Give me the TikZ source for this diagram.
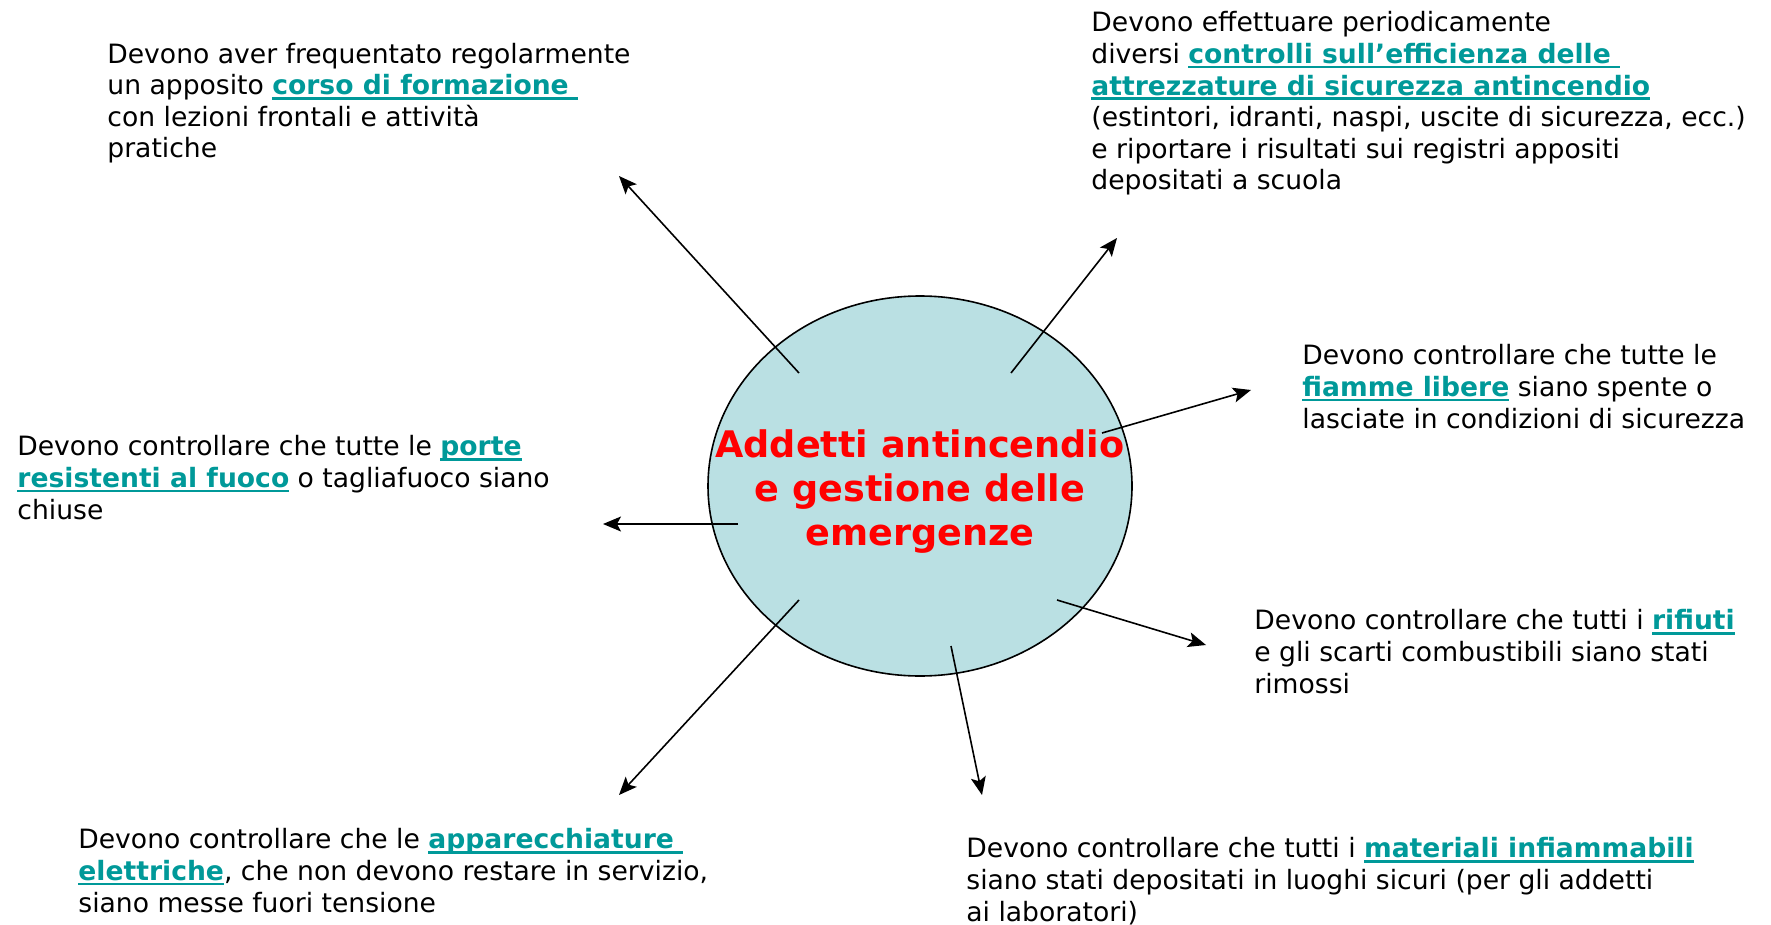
\documentclass[tikz,border=0pt]{standalone}
\usepackage{fontspec}
\setmainfont{DejaVu Sans}
\usepackage{xcolor}
\usetikzlibrary{shapes.geometric,arrows.meta}
\definecolor{linkteal}{RGB}{0,153,153}
\definecolor{hubblue}{RGB}{186,224,227}
\definecolor{hubred}{RGB}{255,0,0}
\newcommand{\lnk}[1]{{\bfseries\color{linkteal}\setbox0=\hbox{#1}\rlap{\rule[-2.4pt]{\wd0}{1.3pt}}\box0}}

\begin{document}
\begin{tikzpicture}[x=0.5pt,y=-0.5pt,
    note/.style={anchor=base west,inner sep=0pt,align=left,font=\fontsize{13.3}{15.8}\selectfont},
    pointer/.style={line width=0.8pt,-{Stealth[length=9pt,width=7.5pt,inset=2pt]}}]
    \useasboundingbox (0,0) rectangle (1771,925);
    \node[draw,ellipse,line width=0.8pt,fill=hubblue,minimum width=212pt,minimum height=190pt,inner sep=0pt] (hub) at (920,486) {};
    \node[anchor=base,inner sep=0pt,align=center,text=hubred,font=\fontsize{18.3}{22}\selectfont\bfseries] (title) at (920,545)
        {Addetti antincendio\\e gestione delle\\emergenze};
    \node[note] (corso) at (107,158) {Devono aver frequentato regolarmente\\un apposito \lnk{corso di formazione\ }\\con lezioni frontali e attività\\pratiche};
    \node[note] (controlli) at (1091,190) {Devono effettuare periodicamente\\diversi \lnk{controlli sull’efficienza delle\ }\\\lnk{attrezzature di sicurezza antincendio}\\(estintori, idranti, naspi, uscite di sicurezza, ecc.)\\e riportare i risultati sui registri appositi\\depositati a scuola};
    \node[note] (fiamme) at (1302,428) {Devono controllare che tutte le\\\lnk{fiamme libere} siano spente o\\lasciate in condizioni di sicurezza};
    \node[note] (porte) at (17,519) {Devono controllare che tutte le \lnk{porte}\\\lnk{resistenti al fuoco} o tagliafuoco siano\\chiuse};
    \node[note] (rifiuti) at (1254,693) {Devono controllare che tutti i \lnk{rifiuti}\\e gli scarti combustibili siano stati\\rimossi};
    \node[note] (elettr) at (78,912) {Devono controllare che le \lnk{apparecchiature\ }\\\lnk{elettriche}, che non devono restare in servizio,\\siano messe fuori tensione};
    \node[note] (materiali) at (966,921) {Devono controllare che tutti i \lnk{materiali infiammabili}\\siano stati depositati in luoghi sicuri (per gli addetti\\ai laboratori)};
    \coordinate (from1) at (799,373);  \coordinate (to1) at (619,176);
    \coordinate (from2) at (1011,373); \coordinate (to2) at (1117,238);
    \coordinate (from3) at (1102,433); \coordinate (to3) at (1251,390);
    \coordinate (from4) at (738,524);  \coordinate (to4) at (603,524);
    \coordinate (from5) at (1057,600); \coordinate (to5) at (1206,645);
    \coordinate (from6) at (951,646);  \coordinate (to6) at (982,795);
    \coordinate (from7) at (799,600);  \coordinate (to7) at (619,795);
    \foreach \i in {1,...,7}
        \draw[pointer] (from\i) -- (to\i);
\end{tikzpicture}
\end{document}
